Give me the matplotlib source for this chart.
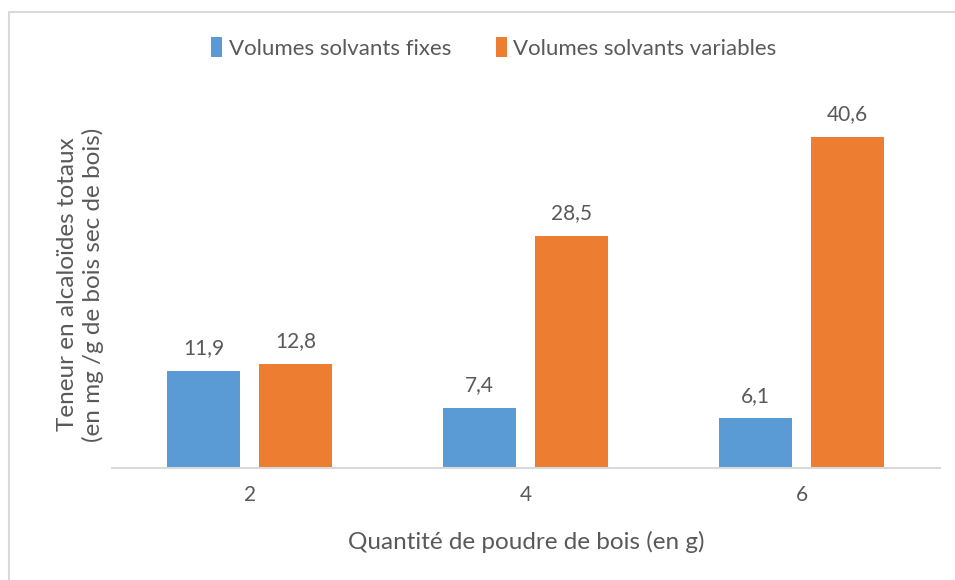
import matplotlib.pyplot as plt
import numpy as np
from matplotlib.patches import Rectangle

plt.rcParams['font.family'] = ['Lato', 'DejaVu Sans']

# Teneur en alcaloïdes totaux selon la quantité de poudre
quantites = ['2', '4', '6']
fixes = [11.9, 7.4, 6.1]
variables = [12.8, 28.5, 40.6]

text_color = '#595959'
blue = '#5B9BD5'
orange = '#ED7D31'

fig = plt.figure(figsize=(9.55, 5.8), dpi=100)
ax = fig.add_axes([0.1173, 0.1931, 0.867, 0.6328])

# cadre du graphique
fig.add_artist(Rectangle((0.009, -0.05), 1.2, 1.03, transform=fig.transFigure,
                         fill=False, edgecolor='#d9d9d9', linewidth=1.5))

x = np.arange(len(quantites))
w = 0.265
b1 = ax.bar(x - 0.168, fixes, w, color=blue, label='Volumes solvants fixes')
b2 = ax.bar(x + 0.165, variables, w, color=orange, label='Volumes solvants variables')

for bars, vals in ((b1, fixes), (b2, variables)):
    for rect, v in zip(bars, vals):
        ax.annotate(f'{v:.1f}'.replace('.', ','),
                    (rect.get_x() + rect.get_width() / 2, v),
                    xytext=(0, 9), textcoords='offset points',
                    ha='center', va='bottom', fontsize=15, color=text_color)

ax.set_xlim(-0.5, 2.5)
ax.set_ylim(0, 45)
ax.set_xticks(x)
ax.set_xticklabels(quantites, fontsize=15, color=text_color)
ax.tick_params(axis='x', length=0, pad=12)
ax.set_yticks([])
for s in ('top', 'right', 'left'):
    ax.spines[s].set_visible(False)
ax.spines['bottom'].set_color('#d9d9d9')
ax.spines['bottom'].set_linewidth(1.5)

ax.set_xlabel('Quantité de poudre de bois (en g)', fontsize=17.5, color=text_color, labelpad=19)
ax.set_ylabel('Teneur en alcaloïdes totaux\n(en mg /g de bois sec de bois)',
              fontsize=17.5, color=text_color, labelpad=6)

fig.legend(loc='center', bbox_to_anchor=(0.517, 0.917), ncol=2, frameon=False,
           fontsize=16, labelcolor=text_color, handlelength=0.5, handleheight=1.0,
           handletextpad=0.3, columnspacing=2.0)

fig.savefig('out.png', dpi=100)
